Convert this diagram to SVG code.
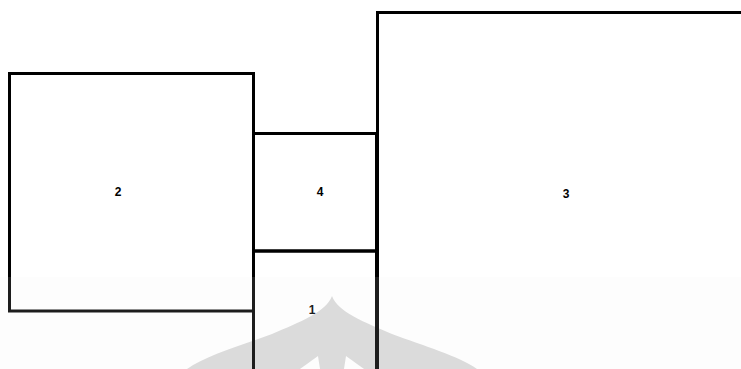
<svg xmlns="http://www.w3.org/2000/svg" width="741" height="369" viewBox="0 0 741 369">
<style>
.box{fill:none;stroke:#000;stroke-width:3}
.lbl{font-family:"Liberation Sans",Arial,sans-serif;font-size:12px;font-weight:bold;fill:#000;text-anchor:middle}
</style>
<rect width="741" height="369" fill="#fff"/>
<g id="watermark">
<path d="M332,296 C326,312 300,322 272,334 C240,346 205,356 187,369 L477,369 C459,356 424,346 392,334 C364,322 338,312 332,296 Z" fill="#d9d9d9"/>
<path d="M300,369 L318,356 L320,369 Z" fill="#fff"/>
<path d="M364,369 L346,356 L344,369 Z" fill="#fff"/>
</g>
<g id="node2"><rect class="box" x="9.5" y="73.5" width="244" height="237.5"/><text class="lbl" x="118" y="196">2</text></g>
<g id="node4"><rect class="box" x="253.5" y="133.5" width="123" height="117.5"/><text class="lbl" x="320" y="196">4</text></g>
<g id="node1"><rect class="box" x="253.5" y="251" width="123" height="160"/><text class="lbl" x="312" y="314">1</text></g>
<g id="node3"><rect class="box" x="377.5" y="12.5" width="420" height="420"/><text class="lbl" x="566" y="198">3</text></g>
<g id="connectors"></g>
<rect x="0" y="277" width="741" height="92" fill="#eeeeee" opacity="0.12"/>
</svg>
